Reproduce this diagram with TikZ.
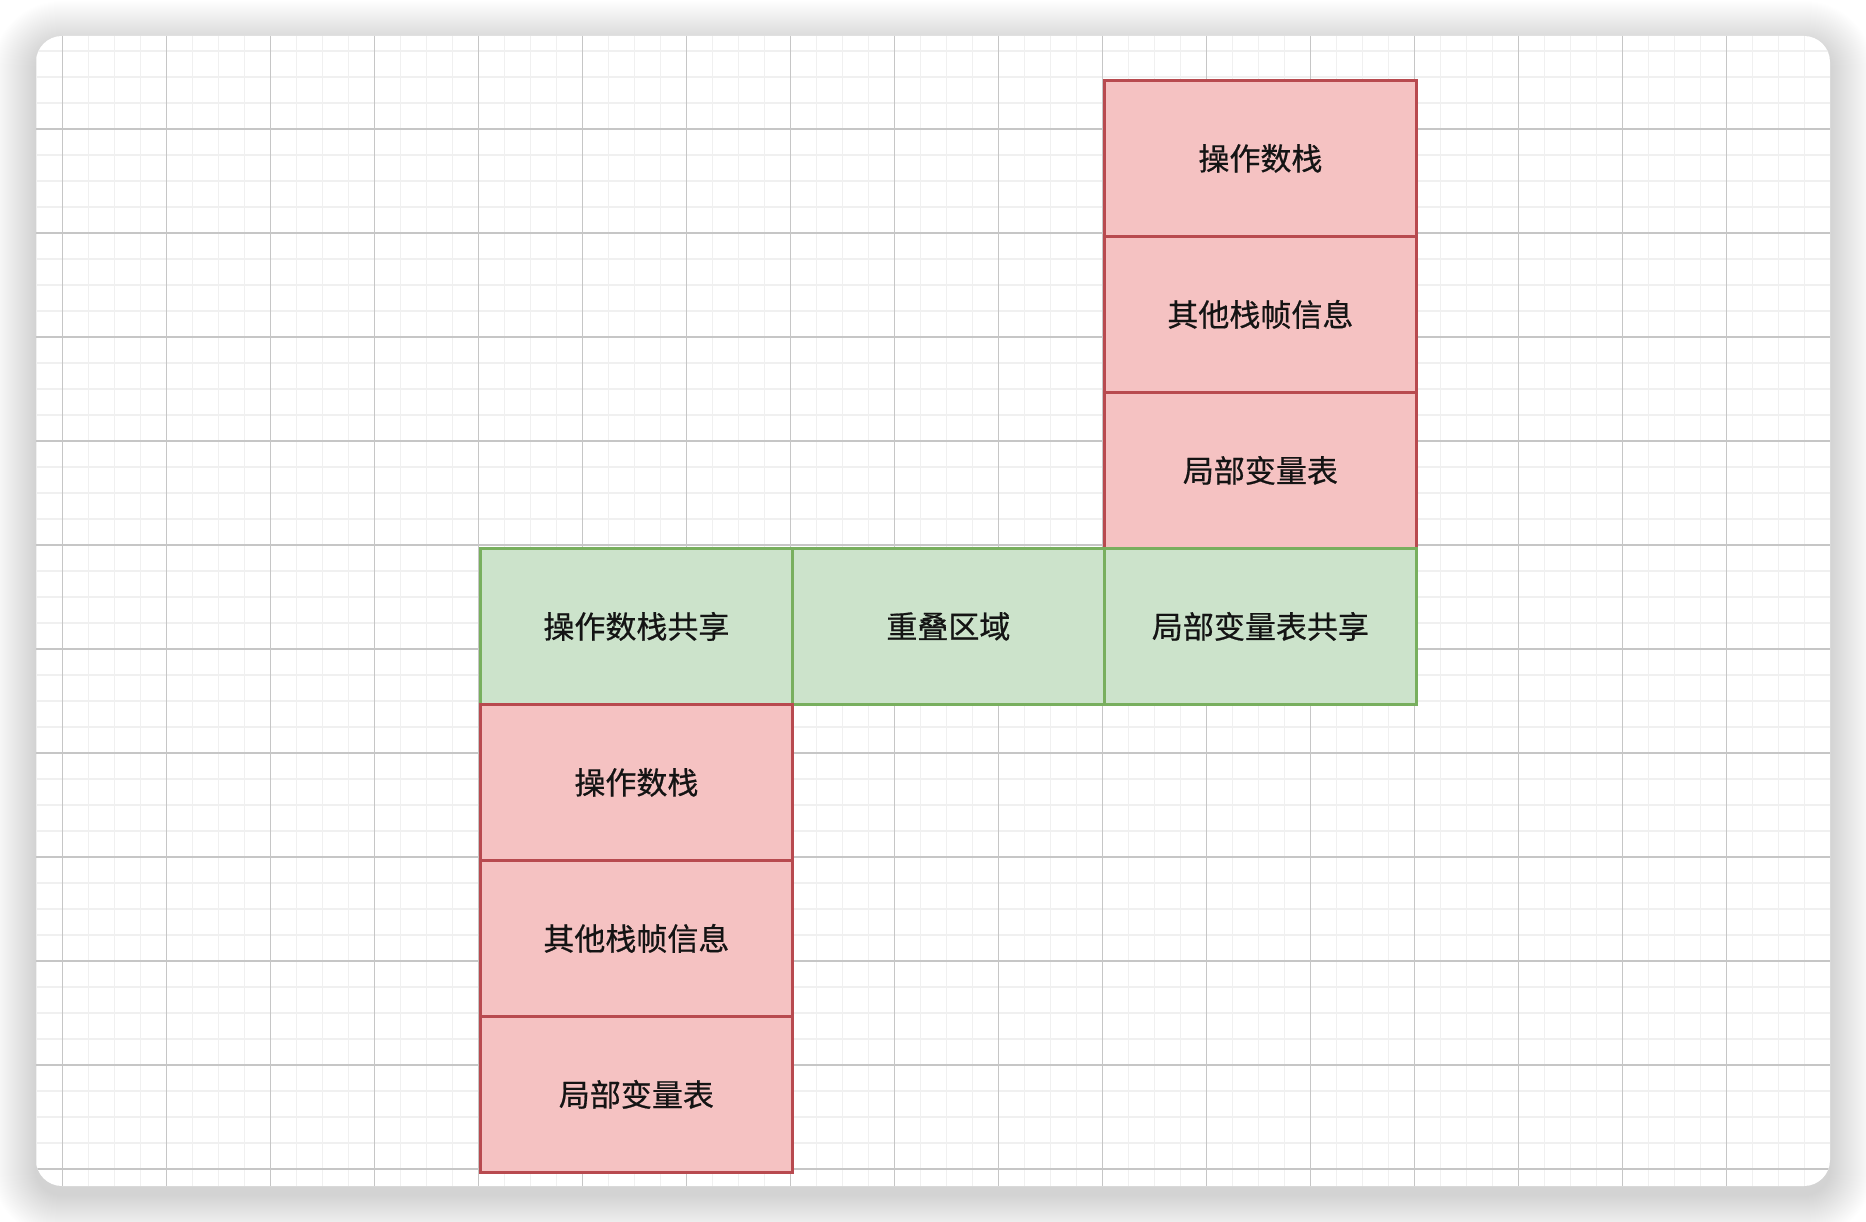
\documentclass[tikz,border=0pt]{standalone}
\usepackage{fontspec}
\newfontfamily\cjk[FakeBold=0.6]{Noto Sans CJK SC}
\definecolor{redfill}{HTML}{F5C2C2}
\definecolor{redline}{HTML}{B84A4F}
\definecolor{greenfill}{HTML}{CCE3CB}
\definecolor{greenline}{HTML}{78AF5E}
\definecolor{minorgrid}{HTML}{F0F0F0}
\definecolor{majorgrid}{HTML}{C6C6C6}
\begin{document}
\begin{tikzpicture}[x=1pt,y=-1pt,
  cell/.style={draw, line width=2.8pt, minimum width=312pt, minimum height=156pt,
    anchor=north west, inner sep=0pt, text=black!92,
    font=\cjk\fontsize{31}{31}\selectfont},
  redcell/.style={cell, fill=redfill, draw=redline},
  greencell/.style={cell, fill=greenfill, draw=greenline},
  minorline/.style={draw=minorgrid, line width=1.3pt},
  majorline/.style={draw=majorgrid, line width=1.1pt}]
\useasboundingbox (0,0) rectangle (1866,1222);
% shadow
\foreach \i in {1,...,44}{
  \pgfmathsetmacro\rr{26+\i}
  \fill[black, opacity=0.0055, rounded corners=\rr pt] ({36-\i},{36-\i+9}) rectangle ({1830+\i},{1186+\i+9});
}
% card
\fill[white, rounded corners=26pt] (36,36) rectangle (1830,1186);
\begin{scope}
  \clip[rounded corners=26pt] (36,36) rectangle (1830,1186);
  \foreach \k in {0,...,70} \draw[minorline] ({36.3+26*\k},36) -- ++(0,1150);
  \foreach \k in {0,...,45} \draw[minorline] (36,{25+26*\k}) -- ++(1794,0);
  \foreach \k in {0,...,17} \draw[majorline] ({62.3+104*\k},36) -- ++(0,1150);
  \foreach \k in {-1,...,10} \draw[majorline] (36,{129+104*\k}) -- ++(1794,0);
\end{scope}
% top right stack
\node[redcell] (t1) at (1103,79) {操作数栈};
\node[redcell] (t2) at (1103,235) {其他栈帧信息};
\node[redcell] (t3) at (1103,391) {局部变量表};
% shared row
\node[greencell] (g1) at (479,547) {操作数栈共享};
\node[greencell] (g2) at (791,547) {重叠区域};
\node[greencell] (g3) at (1103,547) {局部变量表共享};
% bottom left stack
\node[redcell] (b1) at (479,703) {操作数栈};
\node[redcell] (b2) at (479,859) {其他栈帧信息};
\node[redcell] (b3) at (479,1015) {局部变量表};
\end{tikzpicture}
\end{document}
